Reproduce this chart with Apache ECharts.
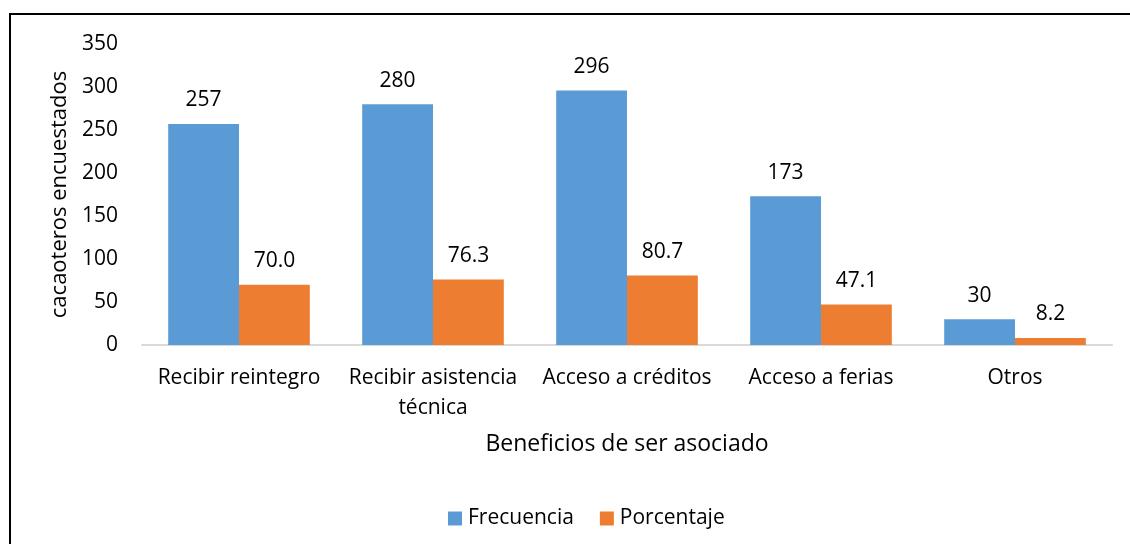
<!DOCTYPE html>
<html>
<head>
<meta charset="utf-8">
<script src="https://cdn.jsdelivr.net/npm/echarts@6/dist/echarts.min.js"></script>
<style>
  html, body { margin: 0; padding: 0; background: #fff; }
  #main { width: 1130px; height: 544px; }
  #frame { position: absolute; left: 9px; top: 13px; width: 1130px; height: 540px; border: 2px solid #000; pointer-events: none; }
</style>
</head>
<body>
<div id="main"></div>
<div id="frame"></div>
<script>
// datos del gráfico
var categorias = ['Recibir reintegro', 'Recibir asistencia\ntécnica', 'Acceso a créditos', 'Acceso a ferias', 'Otros'];
var frecuencia = [257, 280, 296, 173, 30];
var porcentaje = [70.0, 76.3, 80.7, 47.1, 8.2];
var ticksY = [0, 50, 100, 150, 200, 250, 300, 350];

var fuente = '"Open Sans", "Noto Sans", sans-serif';
var chart = echarts.init(document.getElementById('main'), null, { renderer: 'canvas' });

var option = {
  animation: false,
  textStyle: { fontFamily: fuente, color: '#000' },
  grid: { left: 142, right: 18, top: 44, bottom: 199, containLabel: false },
  legend: {
    data: ['Frecuencia', 'Porcentaje'],
    bottom: 10,
    left: 443,
    itemWidth: 14,
    itemHeight: 14,
    itemGap: 26,
    icon: 'rect',
    textStyle: { fontFamily: fuente, fontSize: 21, color: '#000', padding: [0, 0, 0, 1] }
  },
  xAxis: {
    type: 'category',
    data: categorias,
    name: 'Beneficios de ser asociado',
    nameLocation: 'middle',
    nameGap: 88,
    nameTextStyle: { fontFamily: fuente, fontSize: 23, color: '#000' },
    axisLine: { lineStyle: { color: '#D9D9D9', width: 2 } },
    axisTick: { show: false },
    axisLabel: { fontFamily: fuente, fontSize: 21, color: '#000', margin: 18, lineHeight: 30, interval: 0 }
  },
  yAxis: {
    type: 'value',
    min: ticksY[0],
    max: ticksY[ticksY.length - 1],
    interval: 50,
    name: 'cacaoteros encuestados',
    nameLocation: 'middle',
    nameGap: 70,
    nameTextStyle: { fontFamily: fuente, fontSize: 22, color: '#000' },
    axisLine: { show: false },
    axisTick: { show: false },
    splitLine: { show: false },
    axisLabel: { fontFamily: fuente, fontSize: 21, color: '#000', margin: 24 }
  },
  series: [{
    name: 'Frecuencia',
    type: 'bar',
    data: frecuencia,
    barGap: '0%',
    barCategoryGap: '27%',
    itemStyle: { color: '#5B9BD5' },
    label: { show: true, position: 'top', distance: 13, fontFamily: fuente, fontSize: 21, color: '#000' }
  }, {
    name: 'Porcentaje',
    type: 'bar',
    data: porcentaje,
    itemStyle: { color: '#ED7D31' },
    label: {
      show: true, position: 'top', distance: 13, fontFamily: fuente, fontSize: 21, color: '#000',
      formatter: function (p) { return p.value.toFixed(1); }
    }
  }]
};

chart.setOption(option);
</script>
</body>
</html>
